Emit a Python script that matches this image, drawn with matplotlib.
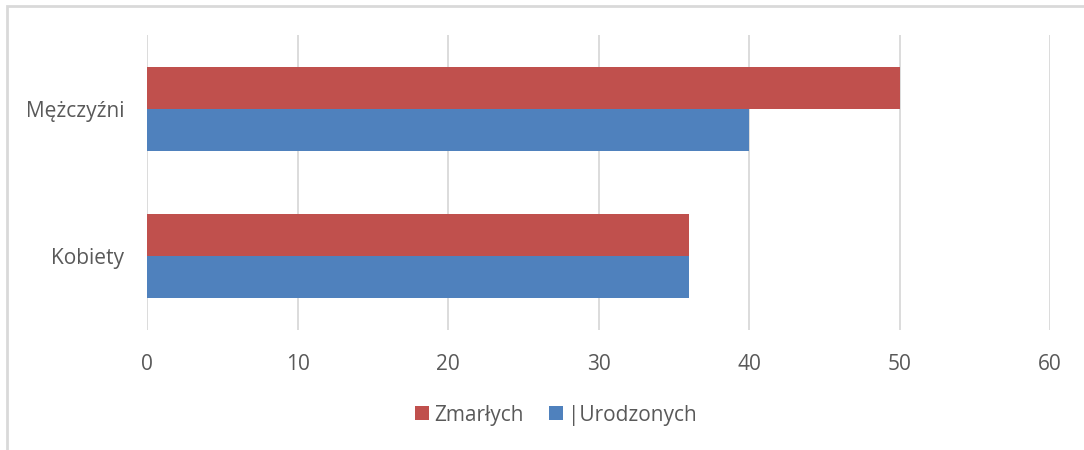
import matplotlib
matplotlib.use("Agg")
import matplotlib.pyplot as plt
from matplotlib.patches import Rectangle, Patch
import numpy as np

categories = ["Kobiety", "Mężczyźni"]
zmarlych = [36, 50]
urodzonych = [36, 40]
series_labels = ["Zmarłych", "|Urodzonych"]
xticks = [0, 10, 20, 30, 40, 50, 60]

RED = "#C0504D"
BLUE = "#4F81BD"
TXT = "#595959"
GRID = "#D9D9D9"

plt.rcParams['font.family'] = ['Open Sans', 'DejaVu Sans']

W, H = 1084, 450
fig = plt.figure(figsize=(W / 100, H / 100), dpi=100)
ax = fig.add_axes([147 / W, 1 - 330 / H, (1050 - 147) / W, (330 - 35) / H])

y = np.arange(len(categories))
bh = 0.285
ax.barh(y + bh / 2, zmarlych, height=bh, color=RED, zorder=3)
ax.barh(y - bh / 2, urodzonych, height=bh, color=BLUE, zorder=3)

ax.set_xlim(0, 60)
ax.set_ylim(-0.5, 1.5)
ax.set_xticks(xticks)
ax.set_xticklabels([str(t) for t in xticks])
ax.set_yticks(y)
ax.set_yticklabels(categories)
ax.tick_params(axis='both', length=0, labelsize=15, colors=TXT)
ax.tick_params(axis='x', pad=17)
ax.tick_params(axis='y', pad=16.5)
ax.xaxis.grid(True, color=GRID, linewidth=1.3, zorder=0)
for s in ax.spines.values():
    s.set_visible(False)

handles = [Patch(facecolor=RED), Patch(facecolor=BLUE)]
fig.legend(handles, series_labels, loc='center', bbox_to_anchor=(556 / W, 1 - 415 / H),
           ncol=2, frameon=False, fontsize=15, handlelength=0.65, handleheight=0.65,
           handletextpad=0.25, columnspacing=1.25, labelcolor=TXT)

fig.add_artist(Rectangle((7 / W, -0.1), 1.2, 1 - 6 / H + 0.1, transform=fig.transFigure,
                         fill=False, edgecolor="#D9D9D9", linewidth=2))

fig.savefig("out.png", dpi=100)
